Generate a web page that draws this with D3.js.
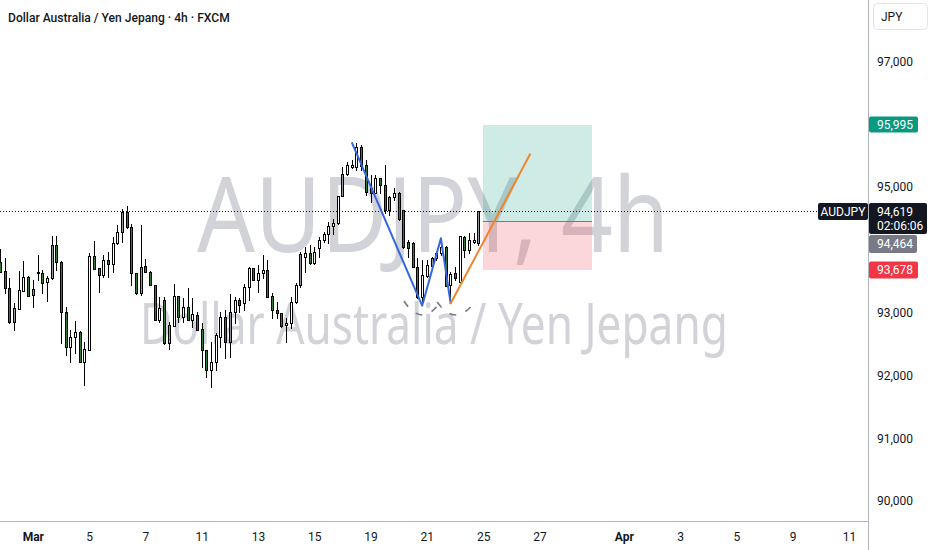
<!DOCTYPE html>
<html>
<head>
<meta charset="utf-8">
<script src="https://cdn.jsdelivr.net/npm/d3@7"></script>
<style>
  html, body { margin: 0; padding: 0; background: #ffffff; }
  svg { display: block; }
</style>
</head>
<body>
<svg id="chart" width="932" height="550"></svg>
<script>
// ---------------- DATA ----------------
const title = "Dollar Australia / Yen Jepang · 4h · FXCM";
const watermark1 = "AUDJPY, 4h";
const watermark2 = "Dollar Australia / Yen Jepang";
const currency = "JPY";
const symbol = "AUDJPY";
const countdown = "02:06:06";

// 4h candles (index 0 .. 102)
const opens = [93.811,93.663,93.387,92.846,93.058,93.349,93.562,93.276,93.635,93.635,93.483,93.546,94.077,93.811,93.005,92.457,92.617,92.696,92.218,92.405,93.906,93.705,93.599,93.838,93.774,94.104,94.288,94.607,94.358,93.626,93.317,93.742,93.651,93.440,92.882,93.201,92.511,92.787,93.264,92.935,93.094,92.882,92.962,92.734,92.405,92.086,92.218,92.617,92.935,92.537,93.014,93.201,93.148,93.403,93.705,93.519,93.626,93.678,93.264,93.041,92.989,92.803,92.839,93.174,93.440,93.890,93.944,93.785,94.024,94.156,94.247,94.384,94.422,94.862,95.207,95.324,95.314,95.642,95.351,94.979,94.909,95.139,95.032,94.634,94.846,94.909,94.634,94.129,94.104,93.731,93.253,93.583,93.742,93.865,93.944,94.050,93.440,93.626,93.492,94.209,93.997,94.129,94.104];
const highs = [94.008,93.874,93.546,93.148,93.663,93.827,93.575,93.519,93.917,93.678,93.583,94.225,94.225,93.815,93.085,92.723,92.866,92.700,92.537,93.954,94.145,93.710,93.917,93.970,94.209,94.395,94.645,94.698,94.411,93.630,94.395,93.849,93.660,93.445,93.253,93.253,92.855,93.451,93.270,93.228,93.387,93.228,93.014,92.830,92.410,92.537,92.670,93.014,93.041,93.296,93.244,93.228,93.456,93.731,93.710,93.758,93.917,93.838,93.307,93.174,92.995,92.909,93.253,93.467,93.970,94.050,94.077,94.050,94.209,94.288,94.448,94.486,94.862,95.324,95.394,95.430,95.706,95.669,95.430,95.191,95.191,95.145,95.351,94.850,94.979,94.925,94.640,94.156,94.130,93.865,93.838,93.838,93.890,93.970,94.129,94.055,93.651,93.731,94.225,94.225,94.273,94.273,94.619];
const lows = [93.640,93.307,92.830,92.723,93.050,93.340,93.260,93.094,93.519,93.317,93.185,93.540,93.678,92.511,92.325,92.218,92.352,92.210,91.847,92.400,93.690,93.323,93.570,93.572,93.651,94.100,94.129,94.350,93.440,93.300,93.280,93.645,93.435,92.875,92.855,92.505,92.416,92.780,92.855,92.855,92.875,92.776,92.718,92.139,91.979,91.811,92.086,92.457,92.272,92.298,92.830,93.014,93.041,93.201,93.515,93.333,93.546,93.248,92.909,92.909,92.776,92.537,92.750,93.148,93.413,93.651,93.770,93.780,93.890,94.130,94.113,94.252,94.415,94.855,95.191,95.298,95.271,95.271,94.873,94.766,94.900,94.900,94.581,94.554,94.793,94.480,94.024,93.890,93.725,93.228,93.148,93.570,93.705,93.838,93.917,93.418,93.174,93.519,93.487,93.890,93.944,94.104,94.077];
const closes = [93.651,93.387,92.846,93.069,93.360,93.572,93.264,93.371,93.651,93.476,93.556,94.077,93.811,93.005,92.457,92.617,92.696,92.218,92.416,93.906,93.699,93.599,93.838,93.774,94.104,94.288,94.607,94.358,93.626,93.307,93.731,93.651,93.440,92.882,93.069,92.511,92.803,93.264,92.935,93.094,92.882,92.973,92.723,92.405,92.086,92.218,92.643,92.935,92.537,93.014,93.201,93.121,93.403,93.705,93.519,93.626,93.678,93.253,93.041,92.989,92.787,92.839,93.174,93.440,93.933,93.944,93.785,93.965,94.156,94.247,94.384,94.422,94.857,95.207,95.351,95.351,95.632,95.335,94.925,94.909,95.139,95.032,94.634,94.846,94.909,94.486,94.050,94.024,93.731,93.253,93.599,93.758,93.865,93.944,94.050,93.424,93.615,93.546,94.220,93.997,94.156,94.156,94.619];
// bar colouring: w = white (up), g = grey (up), d = green (down); 10 bars per group
const barStyles = ["dddgwwdgwd","wgdddwwdww","ddwdwwgddd","gdddwdgwdw","dwdddwwwdg",
                   "wdwwdwwddd","dwwwgwdwww","wwwgwwwddd","wddgwddddd","wwgwwdwdwd","wwg"].join("");

const lastPrice = 94.619;

// time axis
const timeTickIdx = [7,19,31,43,55,67,79,91,103,115,133,145,157,169,181];
const timeTickLabels = ["Mar","5","7","11","13","15","19","21","25","27","Apr","3","5","9","11"];
const boldTimeLabels = ["Mar","Apr"];

// price axis
const priceTicks = [90,91,92,93,95,97];

// drawings
const blueIdx = [75, 90, 94, 96.1];
const bluePrice = [95.712, 93.110, 94.183, 93.137];
const orangeIdx = [96.1, 113];
const orangePrice = [93.148, 95.521];
const arcStartIdx = [86.1, 93.2];
const arcStartPrice = [93.185, 93.169];
const arcMidIdx = [90.0, 97.0];
const arcMidPrice = [92.962, 92.962];
const arcEndIdx = [93.8, 100.9];
const arcEndPrice = [93.169, 93.137];

// long position tool
const posStartIdx = 103;
const posEndIdx = 126.2;
const entryPrice = 94.464;
const targetPrice = 95.995;
const stopPrice = 93.678;

// ---------------- LAYOUT ----------------
const W = 932, H = 550;
const paneRight = 868, paneBottom = 521;
const FONT = "Roboto, 'Noto Sans', 'DejaVu Sans', sans-serif";
const WMFONT = "'Noto Sans', 'Open Sans', sans-serif";
const TXT = "#131722";

const svg = d3.select("#chart");
const x = d3.scaleLinear().domain([0, 181]).range([0, 849]);
const y = d3.scaleLinear().domain([90, 97]).range([501, 61.4]);
const fmt = v => d3.format(".3f")(v).replace(".", ",");

svg.append("rect").attr("width", W).attr("height", H).attr("fill", "#fff");

svg.append("defs").append("clipPath").attr("id", "pane")
  .append("rect").attr("x", 0).attr("y", 0).attr("width", paneRight).attr("height", paneBottom);

const pane = svg.append("g").attr("clip-path", "url(#pane)");

// watermark: font size fitted to width, stretched vertically to the reference cap height
function watermark(str, x0, baseline, width, capH) {
  const t = pane.append("text")
    .attr("font-family", WMFONT).attr("font-size", 100).attr("fill", "#d1d3d8")
    .text(str);
  const w100 = t.node().getComputedTextLength();
  const fs = 100 * width / w100;
  const ky = capH / (0.714 * fs);
  t.attr("font-size", fs).attr("transform", `translate(${x0},${baseline}) scale(1,${ky})`);
}
watermark(watermark1, 197, 252, 472, 74);
watermark(watermark2, 140, 344, 588, 41);

// position boxes
const px0 = Math.round(x(posStartIdx)), px1 = Math.round(x(posEndIdx));
pane.append("rect")
  .attr("x", px0).attr("y", Math.round(y(targetPrice)))
  .attr("width", px1 - px0).attr("height", Math.round(y(entryPrice)) - Math.round(y(targetPrice)))
  .attr("fill", "rgba(8,153,129,0.2)");
pane.append("rect")
  .attr("x", px0).attr("y", Math.round(y(entryPrice)))
  .attr("width", px1 - px0).attr("height", Math.round(y(stopPrice)) - Math.round(y(entryPrice)))
  .attr("fill", "rgba(242,54,69,0.2)");
pane.append("line")
  .attr("x1", px0).attr("x2", px1)
  .attr("y1", Math.round(y(entryPrice)) + 0.5).attr("y2", Math.round(y(entryPrice)) + 0.5)
  .attr("stroke", "#787b86").attr("stroke-width", 1);

// last price dotted line
pane.append("line")
  .attr("x1", 0).attr("x2", 818)
  .attr("y1", Math.round(y(lastPrice)) + 0.5).attr("y2", Math.round(y(lastPrice)) + 0.5)
  .attr("stroke", "#131722").attr("stroke-width", 1).attr("stroke-dasharray", "1,2");

// candles
const fills = { w: "#ffffff", g: "#94979f", d: "#2e7d32" };
const candles = pane.append("g");
opens.forEach((o, i) => {
  const c = closes[i];
  const xc = Math.round(x(i));
  candles.append("line")
    .attr("x1", xc + 0.5).attr("x2", xc + 0.5)
    .attr("y1", Math.round(y(highs[i]))).attr("y2", Math.round(y(lows[i])) + 1)
    .attr("stroke", "#000").attr("stroke-width", 1);
  const top = Math.round(y(Math.max(o, c)));
  const bot = Math.round(y(Math.min(o, c)));
  candles.append("rect")
    .attr("x", xc - 0.5).attr("y", top + 0.5)
    .attr("width", 2).attr("height", Math.max(1, bot - top))
    .attr("fill", fills[barStyles[i]] || "#ffffff").attr("stroke", "#000").attr("stroke-width", 1);
});

// arcs (dashed)
arcStartIdx.forEach((s, k) => {
  const sx = x(s), sy = y(arcStartPrice[k]);
  const mx = x(arcMidIdx[k]), my = y(arcMidPrice[k]);
  const ex = x(arcEndIdx[k]), ey = y(arcEndPrice[k]);
  const cx = 2 * mx - (sx + ex) / 2, cy = 2 * my - (sy + ey) / 2;
  const p = d3.path();
  p.moveTo(sx, sy);
  p.quadraticCurveTo(cx, cy, ex, ey);
  pane.append("path").attr("d", p.toString())
    .attr("fill", "none").attr("stroke", "#787b86").attr("stroke-width", 1.6)
    .attr("stroke-dasharray", "7,10");
});

// blue zig-zag and orange projection
const line = d3.line().x(d => x(d[0])).y(d => y(d[1]));
pane.append("path")
  .attr("d", line(blueIdx.map((v, k) => [v, bluePrice[k]])))
  .attr("fill", "none").attr("stroke", "#3566e0").attr("stroke-width", 2)
  .attr("stroke-linejoin", "round");
pane.append("path")
  .attr("d", line(orangeIdx.map((v, k) => [v, orangePrice[k]])))
  .attr("fill", "none").attr("stroke", "#f0862b").attr("stroke-width", 2)
  .attr("stroke-linecap", "round");

// title (fitted to the reference width)
const tt = svg.append("text").attr("x", 8).attr("y", 22)
  .attr("font-family", FONT).attr("font-size", 13).attr("font-weight", 500)
  .attr("fill", TXT).text(title);
const tw = tt.node().getComputedTextLength();
tt.attr("font-size", Math.max(11.5, Math.min(13.5, 13 * 222 / tw)));

// separators
svg.append("line").attr("x1", paneRight + 0.5).attr("x2", paneRight + 0.5)
  .attr("y1", 0).attr("y2", H).attr("stroke", "#b2b5be");
svg.append("line").attr("x1", 0).attr("x2", paneRight)
  .attr("y1", paneBottom + 0.5).attr("y2", paneBottom + 0.5).attr("stroke", "#b2b5be");

// price axis
const yAxis = d3.axisRight(y).tickValues(priceTicks).tickSize(0).tickPadding(9).tickFormat(fmt);
const ya = svg.append("g").attr("transform", `translate(${paneRight},0)`).call(yAxis);
ya.select(".domain").remove();
ya.selectAll("text").attr("font-family", FONT).attr("font-size", 12).attr("fill", TXT);

// time axis
const xAxis = d3.axisBottom(x).tickValues(timeTickIdx).tickSize(0).tickPadding(11)
  .tickFormat((d, i) => timeTickLabels[i]);
const xa = svg.append("g").attr("transform", `translate(0,${paneBottom})`).call(xAxis);
xa.select(".domain").remove();
xa.selectAll("text").attr("font-family", FONT).attr("font-size", 12).attr("fill", TXT)
  .attr("font-weight", (d, i) => boldTimeLabels.includes(timeTickLabels[i]) ? 700 : 400);

// currency button
svg.append("rect").attr("x", 873.5).attr("y", 3.5).attr("width", 54).attr("height", 26).attr("rx", 4)
  .attr("fill", "#fff").attr("stroke", "#e0e3eb");
svg.append("text").attr("x", 881).attr("y", 21).attr("font-family", FONT).attr("font-size", 12)
  .attr("fill", TXT).text(currency);

// price labels
function priceLabel(yc, h, bg, lines, x0, w) {
  const g = svg.append("g");
  g.append("rect").attr("x", x0).attr("y", yc - h / 2).attr("width", w).attr("height", h)
    .attr("rx", 2).attr("fill", bg);
  lines.forEach((t, k) => {
    g.append("text").attr("x", x0 + 8).attr("y", yc - h / 2 + 12.5 + k * 14.5)
      .attr("font-family", FONT).attr("font-size", 12).attr("fill", "#fff").text(t);
  });
}
priceLabel(y(targetPrice), 16, "#089981", [fmt(targetPrice)], 869, 49);
const lastTop = Math.round(y(lastPrice)) - 8;
priceLabel(lastTop + 15.5, 31, "#131722", [fmt(lastPrice), countdown], 869, 58);
const entryC = Math.max(y(entryPrice), lastTop + 31 + 1 + 9);
priceLabel(entryC, 18, "#787b86", [fmt(entryPrice)], 869, 48);
priceLabel(y(stopPrice), 17, "#f23645", [fmt(stopPrice)], 869, 49);

// symbol label on the last-price line
svg.append("rect").attr("x", 818).attr("y", lastTop).attr("width", 50).attr("height", 17)
  .attr("rx", 2).attr("fill", "#131722");
svg.append("text").attr("x", 843).attr("y", lastTop + 12.5).attr("text-anchor", "middle")
  .attr("font-family", FONT).attr("font-size", 12).attr("fill", "#fff").text(symbol);
</script>
</body>
</html>
